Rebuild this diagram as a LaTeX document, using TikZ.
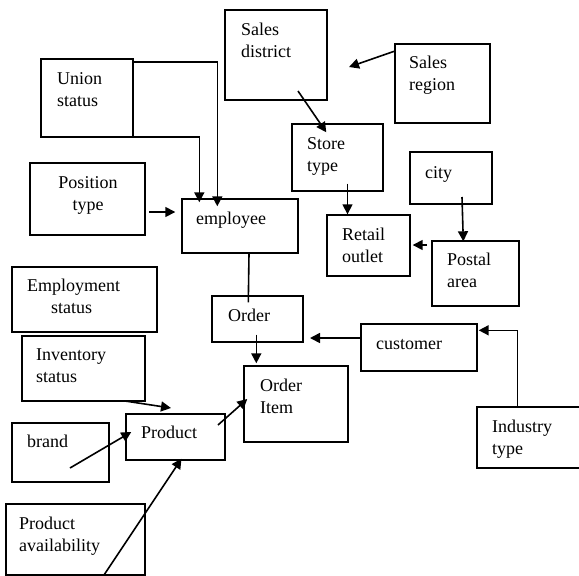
\documentclass[tikz,border=0pt]{standalone}
\usepackage{fontspec}
\setmainfont{Liberation Serif}
\usetikzlibrary{arrows.meta,calc}
\begin{document}
\begin{tikzpicture}[x=1pt,y=-1pt,
  box/.style={draw=black,line width=1.4pt,inner sep=0pt,minimum width=#1},
  lbl/.style={inner sep=0pt,anchor=base west,align=left,font=\fontsize{18}{21.5}\selectfont,text=black},
  conn/.style={line width=1.6pt,draw=black},
  arr/.style={conn,-{Triangle[length=10pt,width=10pt]}}]
\clip (0,0) rectangle (579,576);
% boxes
\node[box=102pt,minimum height=90pt] (salesd) at (276,55) {};
\node[box=92pt,minimum height=78pt] (union) at (87,98) {};
\node[box=95pt,minimum height=79pt] (salesr) at (442.5,83.5) {};
\node[box=91pt,minimum height=67pt] (store) at (337.5,157.5) {};
\node[box=115pt,minimum height=72pt] (postype) at (87.5,199) {};
\node[box=82pt,minimum height=52pt] (city) at (451,178) {};
\node[box=116pt,minimum height=54pt] (employee) at (240,226) {};
\node[box=83pt,minimum height=61pt] (retail) at (368.5,245.5) {};
\node[box=87pt,minimum height=65pt] (postal) at (475.5,273.5) {};
\node[box=145pt,minimum height=65pt] (employment) at (84.5,299.5) {};
\node[box=91pt,minimum height=46pt] (order) at (257.5,319) {};
\node[box=116pt,minimum height=47pt] (customer) at (419,347.5) {};
\node[box=123pt,minimum height=65pt] (inventory) at (83.5,368.5) {};
\node[box=104pt,minimum height=76pt] (orderitem) at (296,404) {};
\node[box=104pt,minimum height=61pt] (industry) at (529,437.5) {};
\node[box=99pt,minimum height=46pt] (product) at (175.5,437) {};
\node[box=97pt,minimum height=59pt] (brand) at (60.5,452.5) {};
\node[box=139pt,minimum height=71pt] (prodavail) at (75.5,539.5) {};
% texts (coordinate = baseline of last line)
\node[lbl] (tsalesd) at (241,57) {Sales\\district};
\node[lbl] (tunion) at (57,106) {Union\\status};
\node[lbl] (tsalesr) at (409,90) {Sales\\region};
\node[lbl] (tstore) at (307,171) {Store\\type};
\node[lbl,anchor=base,align=center] (tpostype) at (88,210) {Position\\type};
\node[lbl] (tcity) at (425,178) {city};
\node[lbl] (temployee) at (196,224) {employee};
\node[lbl] (tretail) at (342,262) {Retail\\outlet};
\node[lbl] (tpostal) at (447,287) {Postal\\area};
\node[lbl] (temployment) at (27,313) {Employment\\\hspace*{24pt}status};
\node[lbl] (torder) at (228,321) {Order};
\node[lbl] (tcustomer) at (376,349) {customer};
\node[lbl] (tinventory) at (36,382) {Inventory\\status};
\node[lbl] (torderitem) at (260,413) {Order\\Item};
\node[lbl] (tindustry) at (492,454) {Industry\\type};
\node[lbl] (tproduct) at (141,438) {Product};
\node[lbl] (tbrand) at (27,447) {brand};
\node[lbl] (tprodavail) at (19,551) {Product\\availability};
% free ends
\coordinate (u1) at (133,62);
\coordinate (u2) at (127,137);
\coordinate (sr1) at (395,51);
\coordinate (sr2) at (349,67);
\coordinate (sd1) at (298,91);
\coordinate (ci1) at (462,197);
\coordinate (pa1) at (427,245);
\coordinate (pt1) at (149,212);
\coordinate (in1) at (125,401);
\coordinate (in2) at (171,408);
\coordinate (br1) at (70,468);
\coordinate (pv1) at (102,578);
\coordinate (pr1) at (218,425);
\coordinate (cu1) at (361,338);
\coordinate (cu2) at (310,338);
% connectors
\draw[arr] (u1) -| ($(employee.north west)+(36,8)$);
\draw[arr] (u2) -| ($(employee.north west)+(18,4)$);
\draw[arr] (pt1) -- ($(employee.west)+(-6,-14)$);
\draw[arr] (sr1) -- (sr2);
\draw[arr] (sd1) -- ($(store.north west)+(35,9)$);
\draw[arr] ($(store.south)+(10,-8)$) -- (retail.north -| {$(store.south)+(10,0)$});
\draw[arr] (ci1) -- ($(postal.north west)+(32,1)$);
\draw[arr] (pa1) -- ($(retail.east)+(2,-0.5)$);
\draw[conn] (employee.south -| {$(employee.south)+(9,0)$}) -- ($(order.north west)+(37,7)$);
\draw[arr] ($(order.south west)+(45,-8)$) -- ($(orderitem.north west)+(13,-2)$);
\draw[arr] (cu1) -- (cu2);
\draw[arr] ($(industry.north west)+(41,0)$) |- ($(customer.north east)+(1,7)$);
\draw[arr] (in1) -- (in2);
\draw[arr] (br1) -- ($(product.west)+(6,-5)$);
\draw[arr] (pv1) -- ($(product.south)+(6,-2)$);
\draw[arr] (pr1) -- ($(orderitem.west)+(4,-5)$);
\end{tikzpicture}
\end{document}
